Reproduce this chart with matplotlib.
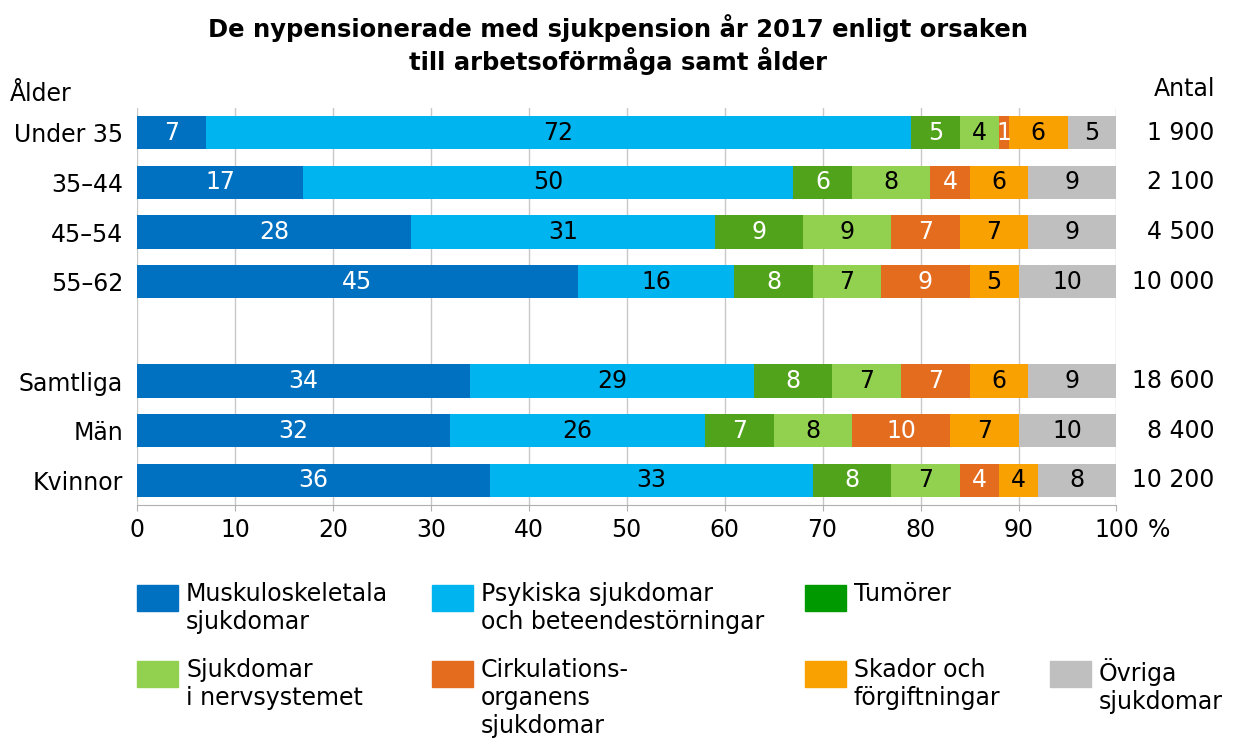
import matplotlib.pyplot as plt
import numpy as np

groups = ["Under 35", "35–44", "45–54", "55–62", "Samtliga", "Män", "Kvinnor"]
positions = [0, 1, 2, 3, 5, 6, 7]
antal = ["1 900", "2 100", "4 500", "10 000", "18 600", "8 400", "10 200"]

causes = [
    "Muskuloskeletala\nsjukdomar",
    "Psykiska sjukdomar\noch beteendestörningar",
    "Tumörer",
    "Sjukdomar\ni nervsystemet",
    "Cirkulations-\norganens\nsjukdomar",
    "Skador och\nförgiftningar",
    "Övriga\nsjukdomar",
]
muskulo = [7, 17, 28, 45, 34, 32, 36]
psykiska = [72, 50, 31, 16, 29, 26, 33]
tumorer = [5, 6, 9, 8, 8, 7, 8]
nerv = [4, 8, 9, 7, 7, 8, 7]
cirk = [1, 4, 7, 9, 7, 10, 4]
skador = [6, 6, 7, 5, 6, 7, 4]
ovriga = [5, 9, 9, 10, 9, 10, 8]
values = [muskulo, psykiska, tumorer, nerv, cirk, skador, ovriga]

colors = ["#0070c0", "#00b5ef", "#52a31c", "#92d050", "#e46c1f", "#f9a100", "#bfbfbf"]
legend_colors = ["#0070c0", "#00b5ef", "#009a00", "#92d050", "#e46c1f", "#f9a100", "#bfbfbf"]
text_colors = ["white", "black", "white", "black", "white", "black", "black"]

FS = 17
plt.rcParams['font.family'] = 'DejaVu Sans'

fig = plt.figure(figsize=(12.36, 7.45), dpi=100)
ax = fig.add_axes([0.1108, 0.322, 0.7925, 0.533])

left = np.zeros(len(groups))
for vals, col, tcol in zip(values, colors, text_colors):
    rects = ax.barh(positions, vals, height=0.67, left=left, color=col, zorder=2)
    ax.bar_label(rects, labels=[str(v) for v in vals], label_type='center',
                 color=tcol, fontsize=FS)
    left += np.array(vals)

ax.set_xlim(0, 100)
ax.set_ylim(7.5, -0.5)
ax.set_xticks(range(0, 101, 10))
ax.set_xticklabels([str(t) for t in range(0, 101, 10)], fontsize=FS)
ax.set_yticks(positions)
ax.set_yticklabels(groups, fontsize=FS)
ax.tick_params(axis='y', length=0, pad=10)
ax.tick_params(axis='x', length=4, color='#b0b0b0', pad=5)
ax.grid(axis='x', color='#c8c8c8', linewidth=1, zorder=0)
for s in ['top', 'right', 'left']:
    ax.spines[s].set_visible(False)
ax.spines['bottom'].set_color('#b0b0b0')

ax.text(1.032, -0.0315, "%", transform=ax.transAxes, fontsize=FS, va='top', ha='left')

for p, a in zip(positions, antal):
    ax.text(1.100, p, a, transform=ax.get_yaxis_transform(), ha='right', va='center', fontsize=FS)

fig.text(0.5, 0.94, "De nypensionerade med sjukpension år 2017 enligt orsaken\ntill arbetsoförmåga samt ålder",
         ha='center', va='center', fontsize=17.5, fontweight='bold', linespacing=1.2)
fig.text(0.008, 0.874, "Ålder", ha='left', va='center', fontsize=FS)
fig.text(0.983, 0.881, "Antal", ha='right', va='center', fontsize=FS)

# legend entries placed by hand (pixels from the top-left of the figure)
legend_pos = [(137, 585), (432, 585), (805, 585), (137, 661), (432, 661), (805, 661), (1050, 661)]
W, H = 1236, 745
for (px, py), lab, col in zip(legend_pos, causes, legend_colors):
    fig.patches.append(plt.Rectangle((px / W, 1 - (py + 26) / H), 41 / W, 26 / H,
                                     color=col, transform=fig.transFigure, figure=fig))
    fig.text((px + 49) / W, 1 - (py - 3) / H, lab, ha='left', va='top', fontsize=FS,
             linespacing=1.2)

fig.savefig("out.png", dpi=100)
